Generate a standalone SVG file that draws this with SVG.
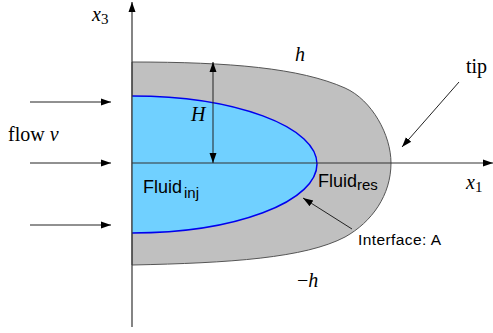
<svg xmlns="http://www.w3.org/2000/svg" width="493" height="333" viewBox="0 0 493 333">
<style>
.ax{stroke:#333;stroke-width:1.2;fill:none}
.ar{stroke:#222;stroke-width:1;fill:none}
.m{font-family:"Liberation Serif","Times New Roman",serif;font-size:20px;fill:#000}
.mi{font-style:italic}
.s{font-family:"Liberation Sans",Arial,sans-serif;fill:#000}
</style>
<defs>
<marker id="ah" viewBox="0 0 10 10" refX="10" refY="5" markerWidth="10" markerHeight="10" markerUnits="userSpaceOnUse" orient="auto-start-reverse">
<path d="M0,1.5 L10,5 L0,8.5 Z" fill="#000"/>
</marker>
</defs>
<g id="outer">
<path d="M132,62 C230,62 300,68 345,88 C372,100 391,135 391,163 C391,195 372,222 345,237 C305,258 230,263 132,265 Z" fill="#c0c0c0" stroke="#555" stroke-width="1"/>
</g>
<g id="inner">
<path d="M132,96 A185,68 0 0 1 317,164 A185,69 0 0 1 132,233 Z" fill="#70d0ff" stroke="none"/>
<path d="M132,96 A185,68 0 0 1 317,164 A185,69 0 0 1 132,233" fill="none" stroke="#0000ee" stroke-width="1.5"/>
</g>
<g id="connectors">
<line class="ax" x1="132" y1="327" x2="132" y2="2" marker-end="url(#ah)"/>
<line class="ax" x1="132" y1="163" x2="493" y2="163" marker-end="url(#ah)"/>
<line class="ar" x1="213" y1="62" x2="213" y2="163" marker-start="url(#ah)" marker-end="url(#ah)"/>
<line class="ar" x1="30" y1="102" x2="111" y2="102" marker-end="url(#ah)"/>
<line class="ar" x1="30" y1="163" x2="111" y2="163" marker-end="url(#ah)"/>
<line class="ar" x1="30" y1="225" x2="111" y2="225" marker-end="url(#ah)"/>
<line class="ar" x1="459" y1="82" x2="402" y2="147" marker-end="url(#ah)"/>
<line class="ar" x1="352" y1="229" x2="303" y2="198" marker-end="url(#ah)"/>
</g>
<g id="labels">
<text class="m" x="92" y="21"><tspan class="mi">x</tspan><tspan font-size="15" dy="3">3</tspan></text>
<text class="m" x="8" y="141">flow <tspan class="mi">v</tspan></text>
<text class="m mi" x="191" y="121">H</text>
<text class="m mi" x="295" y="61">h</text>
<text class="m" x="466" y="73">tip</text>
<text class="m" x="466" y="189"><tspan class="mi">x</tspan><tspan font-size="15" dy="3">1</tspan></text>
<text class="m" x="297" y="287">−<tspan class="mi">h</tspan></text>
<text class="s" x="143" y="193" font-size="18">Fluid<tspan font-size="15" dx="2" dy="5">inj</tspan></text>
<text class="s" x="318" y="187" font-size="18">Fluid<tspan font-size="15" dy="3">res</tspan></text>
<text class="s" x="358" y="245" font-size="15.5" textLength="83">Interface: A</text>
</g>
</svg>
